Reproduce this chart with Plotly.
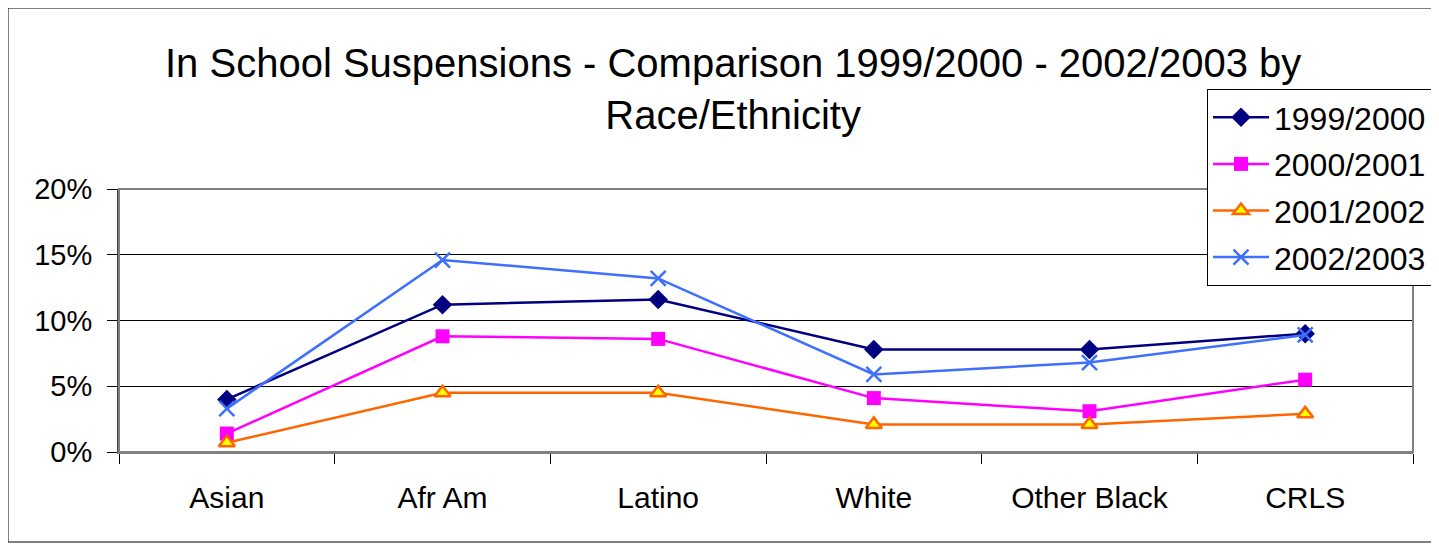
import plotly.graph_objects as go

categories = ["Asian", "Afr Am", "Latino", "White", "Other Black", "CRLS"]
years = ["1999/2000", "2000/2001", "2001/2002", "2002/2003"]

y1999 = [0.040, 0.112, 0.116, 0.078, 0.078, 0.090]
y2000 = [0.014, 0.088, 0.086, 0.041, 0.031, 0.055]
y2001 = [0.007, 0.045, 0.045, 0.021, 0.021, 0.029]
y2002 = [0.033, 0.146, 0.132, 0.059, 0.068, 0.089]

y_ticks = [0, 0.05, 0.10, 0.15, 0.20]
y_tick_text = ["0%", "5%", "10%", "15%", "20%"]

# the page puts the figure 8px in from the top-left corner
OFF = 8
W, H = 1439 - OFF, 544 - OFF
L, R, T, B = 119 - OFF, 1413 - OFF, 189 - OFF, 452 - OFF


def px_x(x):
    # x given in screen pixels
    return (x - OFF - L) / (R - L)


def px_y(y):
    return (B - (y - OFF)) / (B - T)


font = "Liberation Sans, Arial, sans-serif"

styles = [
    dict(line=dict(color="#000080", width=2.5),
         marker=dict(symbol="diamond", size=15, color="#000080")),
    dict(line=dict(color="#FF00FF", width=2.5),
         marker=dict(symbol="square", size=14, color="#FF00FF")),
    dict(line=dict(color="#FF6600", width=2.5),
         marker=dict(symbol="triangle-up", size=14, color="#FFFF00",
                     line=dict(color="#FF6600", width=2.5))),
    dict(line=dict(color="#3E6FFF", width=2.5),
         marker=dict(symbol="x-thin", size=15, color="#3E6FFF",
                     line=dict(color="#3E6FFF", width=2.5))),
]

fig = go.Figure()
for name, vals, st in zip(years, [y1999, y2000, y2001, y2002], styles):
    fig.add_trace(go.Scatter(x=categories, y=vals, name=name, mode="lines+markers",
                             legendgroup=name, **st))

fig.update_layout(
    width=W, height=H,
    margin=dict(l=L, r=W - R, t=T, b=H - B, autoexpand=False),
    paper_bgcolor="white", plot_bgcolor="white",
    font=dict(family=font, color="black"),
    showlegend=True,
    legend=dict(x=px_x(1207), y=px_y(89), xanchor="left", yanchor="top",
                bordercolor="black", borderwidth=1, bgcolor="white",
                font=dict(size=32), tracegroupgap=2, itemwidth=56),
    xaxis=dict(range=[-0.5, 5.5], tickson="boundaries", ticks="outside", ticklen=10,
               tickcolor="black", showgrid=False, showline=True, linecolor="#808080",
               linewidth=2, tickfont=dict(size=30), ticklabelstandoff=18),
    yaxis=dict(range=[0, 0.20], tickvals=y_ticks, ticktext=y_tick_text, ticks="outside",
               ticklen=10, tickcolor="black", showgrid=True, gridcolor="black", gridwidth=1,
               showline=True, linecolor="#404040", linewidth=2, zeroline=False,
               tickfont=dict(size=29), ticklabelstandoff=9),
    annotations=[dict(
        text="In School Suspensions - Comparison 1999/2000 - 2002/2003 by<br>Race/Ethnicity",
        x=px_x(733), y=px_y(89), xref="paper", yref="paper", showarrow=False,
        xanchor="center", yanchor="middle", font=dict(size=40))],
    shapes=[
        dict(type="rect", xref="paper", yref="paper", x0=0, x1=1, y0=0, y1=1,
             line=dict(color="#808080", width=2), layer="above"),
        dict(type="rect", xref="paper", yref="paper", x0=px_x(OFF), x1=px_x(1460),
             y0=px_y(542), y1=px_y(OFF), line=dict(color="black", width=1)),
    ],
)

fig.write_html("out.html")
